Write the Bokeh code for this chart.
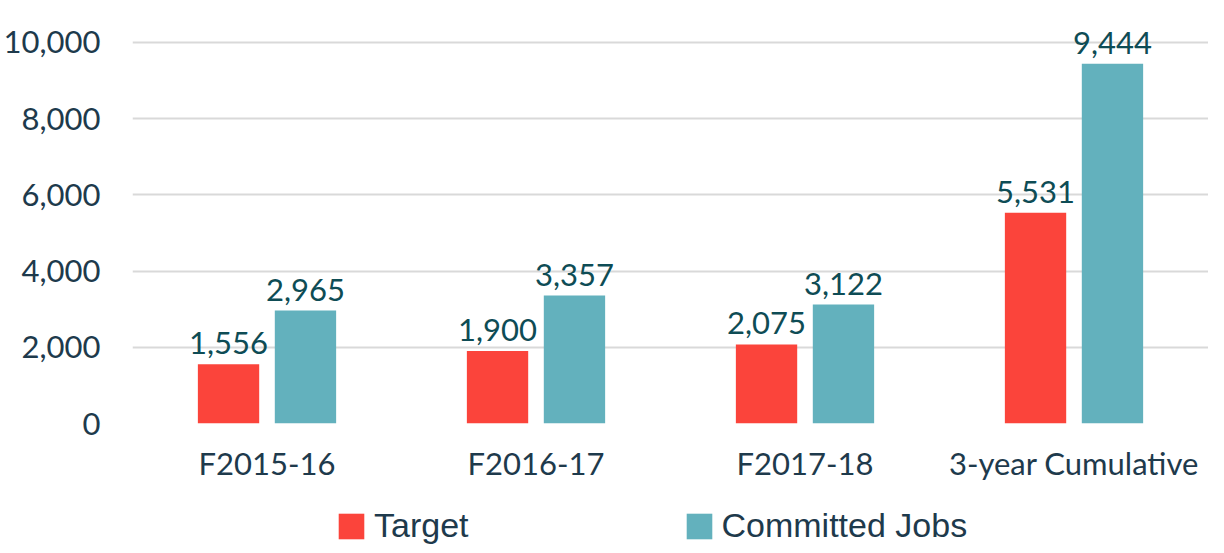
from bokeh.plotting import figure
from bokeh.layouts import column
from bokeh.models import ColumnDataSource, Range1d, FixedTicker, Legend, LegendItem, NumeralTickFormatter
from bokeh.transform import dodge
from bokeh.core.properties import value
from bokeh.embed import file_html
from bokeh.resources import INLINE

categories = ["F2015-16", "F2016-17", "F2017-18", "3-year Cumulative"]
target = [1556, 1900, 2075, 5531]
committed = [2965, 3357, 3122, 9444]
y_ticks = [0, 2000, 4000, 6000, 8000, 10000]
series_names = ["Target", "Committed Jobs"]

RED = "#FB443B"
TEAL = "#63B1BD"
VAL_COLOR = "#0E4C55"
AX_COLOR = "#1E3A4C"

src = ColumnDataSource(dict(
    cat=categories,
    target=target,
    committed=committed,
    target_lbl=[f"{v:,}" for v in target],
    committed_lbl=[f"{v:,}" for v in committed],
))

p = figure(x_range=categories, y_range=Range1d(0, 11102), width=1208, height=500,
           output_backend="svg", toolbar_location=None,
           min_border_left=120, min_border_right=0, min_border_top=0, min_border_bottom=77)
p.outline_line_color = None

bw = 0.228
off = 0.143
p.vbar(x=dodge("cat", -off, range=p.x_range), top="target", width=bw, source=src,
       fill_color=RED, line_color=None)
p.vbar(x=dodge("cat", off, range=p.x_range), top="committed", width=bw, source=src,
       fill_color=TEAL, line_color=None)

for xoff, col, lbl in [(-off, "target", "target_lbl"), (off, "committed", "committed_lbl")]:
    p.text(x=dodge("cat", xoff, range=p.x_range), y=col, text=lbl, source=src,
           text_align="center", text_baseline="alphabetic", y_offset=-21,
           text_font=value("Lato"), text_font_size="31px", text_color=VAL_COLOR)

p.yaxis.ticker = FixedTicker(ticks=y_ticks)
p.yaxis.formatter = NumeralTickFormatter(format="0,0")
p.yaxis.axis_line_color = None
p.yaxis.major_tick_line_color = None
p.yaxis.minor_tick_line_color = None
p.yaxis.major_label_text_font = "Lato"
p.yaxis.major_label_text_font_size = "31px"
p.yaxis.major_label_text_color = AX_COLOR
p.yaxis.major_label_standoff = 26

p.xaxis.axis_line_color = None
p.xaxis.major_tick_line_color = None
p.xaxis.minor_tick_line_color = None
p.xaxis.major_label_text_font = "Lato"
p.xaxis.major_label_text_font_size = "31px"
p.xaxis.major_label_text_color = AX_COLOR
p.xaxis.major_label_standoff = 14

p.xgrid.grid_line_color = None
p.ygrid.grid_line_color = "#D9D9D9"
p.ygrid.grid_line_width = 2
p.ygrid.ticker = FixedTicker(ticks=y_ticks)

# legend strip (proxy renderers sit outside the visible range; only their legend swatches show)
lg = figure(width=1208, height=45, output_backend="svg", toolbar_location=None,
            x_range=Range1d(0, 1), y_range=Range1d(0, 1), x_axis_type=None, y_axis_type=None,
            min_border_left=0, min_border_right=0, min_border_top=0, min_border_bottom=0)
lg.outline_line_color = None
lg.xgrid.grid_line_color = None
lg.ygrid.grid_line_color = None
d1 = lg.vbar(x=[5], top=[5], bottom=[4], width=0.1, fill_color=RED, line_color=None)
d2 = lg.vbar(x=[5], top=[5], bottom=[4], width=0.1, fill_color=TEAL, line_color=None)
legend = Legend(items=[LegendItem(label=series_names[0], renderers=[d1]),
                       LegendItem(label=series_names[1], renderers=[d2])],
                orientation="horizontal", location=(203, 0),
                glyph_width=32, glyph_height=32, label_standoff=7, spacing=214,
                padding=0, margin=0, border_line_color=None, background_fill_alpha=0,
                label_text_font="Liberation Sans", label_text_font_size="34px",
                label_text_color=AX_COLOR, label_height=30)
lg.add_layout(legend, "center")

layout = column(p, lg, spacing=0)
open("out.html", "w").write(file_html(layout, INLINE))
